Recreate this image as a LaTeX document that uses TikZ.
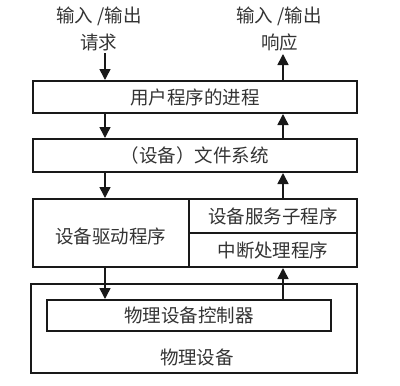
\documentclass[tikz,border=0pt]{standalone}
\usepackage{fontspec}
\newfontfamily\cjk{Noto Sans CJK SC}
\usetikzlibrary{arrows.meta}
\begin{document}
\begin{tikzpicture}[x=1pt,y=-1pt,
  txt/.style={font=\cjk\fontsize{18.5}{22}\selectfont, text=black!80, inner sep=0pt},
  box/.style={draw=black!90, line width=2pt, rectangle, inner sep=0pt, txt},
  arr/.style={draw=black!90, line width=1.6pt, -{Triangle[width=11pt,length=11pt]}}]
\useasboundingbox (0,0) rectangle (400,386);
% boxes
\node[box, minimum width=324pt, minimum height=32pt] (b1) at (195,97) {用户程序的进程};
\node[box, minimum width=324pt, minimum height=33pt] (b2) at (195,155.5) {（设备）文件系统};
\node[box, minimum width=324pt, minimum height=68pt] (b3) at (195,233) {};
\node[box, minimum width=168pt, minimum height=34pt] (srv) at (273,216) {设备服务子程序};
\node[box, minimum width=168pt, minimum height=34pt] (isr) at (273,250) {中断处理程序};
\node[txt] (drv) at (111,236) {设备驱动程序};
\node[box, minimum width=326pt, minimum height=89pt] (b4) at (194,328.5) {};
\node[box, minimum width=284pt, minimum height=31pt] (ctrl) at (189,315.5) {物理设备控制器};
\node[txt] (phy) at (197,357) {物理设备};
% top labels
\node[txt] (rq1) at (99,16) {输入 /输出};
\node[txt] (rq2) at (99,42) {请求};
\node[txt] (rs1) at (279,16) {输入 /输出};
\node[txt] (rs2) at (280,42) {响应};
\coordinate (rq) at (105,53);
\coordinate (rs) at (283,54);
% arrows
\draw[arr] (rq) -- (rq |- b1.north);
\draw[arr] (rs |- b1.north) -- (rs);
\draw[arr] (b1.south -| rq) -- (b2.north -| rq);
\draw[arr] (b2.north -| rs) -- (b1.south -| rs);
\draw[arr] (b2.south -| rq) -- (b3.north -| rq);
\draw[arr] (b3.north -| rs) -- (b2.south -| rs);
\draw[arr] (b3.south -| rq) -- (ctrl.north -| rq);
\draw[arr] (ctrl.north -| rs) -- (b3.south -| rs);
\end{tikzpicture}
\end{document}
